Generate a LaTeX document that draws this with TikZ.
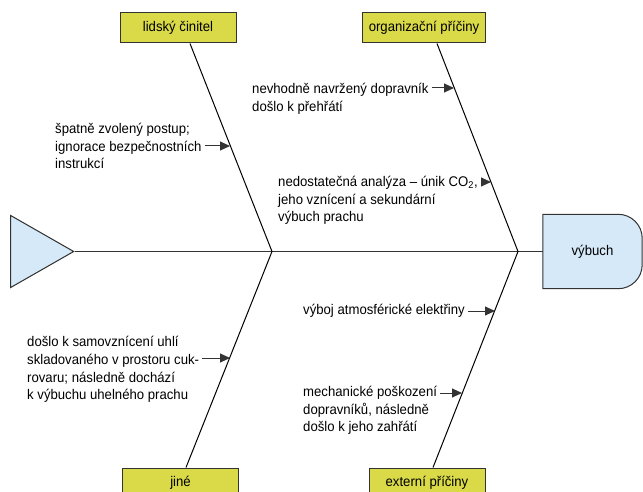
\documentclass[tikz,border=0pt]{standalone}
\usepackage{fontspec}
\setmainfont{Liberation Sans}[FakeStretch=0.94]
\usepackage{xcolor}
\usepackage{tikz}
\usetikzlibrary{
    positioning,
    arrows.meta,
    shapes.geometric,
    backgrounds,
    calc
}
\definecolor{boxyellow}{RGB}{218,218,72}
\definecolor{headblue}{RGB}{213,233,248}
\definecolor{linegray}{RGB}{51,51,51}
\tikzset{
    category/.style={
        rectangle, draw=linegray, fill=boxyellow, line width=1pt,
        minimum width=116pt, minimum height=30pt, inner xsep=6pt,
        align=center
    },
    causetext/.style={
        anchor=west, inner sep=0pt, align=left
    },
    cause/.style={
        -{Triangle[length=10pt,width=9pt]}, line width=1pt,
        draw=linegray, shorten <=3pt
    },
    bone/.style={
        line width=1pt, draw=black
    },
    spine/.style={
        line width=1.2pt, draw=linegray
    },
    fishtail/.style={
        isosceles triangle, isosceles triangle stretches,
        draw=linegray, fill=headblue, line width=1pt,
        minimum width=72pt, minimum height=63pt, inner sep=0pt,
        anchor=apex
    },
    effect/.style={
        rectangle, minimum width=99pt, minimum height=74pt, inner sep=0pt
    }
}

\begin{document}
\begin{tikzpicture}[x=1pt, y=-1pt, font=\fontsize{14}{17.7}\selectfont]
	\useasboundingbox (0,0) rectangle (643,492);
	\clip (0,0) rectangle (643,492);
	
	% NODES
	\node (tail) [fishtail] at (75,251.5) {};
	\node (vybuch) [effect] at (592.5,251.5) {výbuch};
	\node (lidsky) [category] at (178,28) {lidský činitel};
	\node (organizacni) [category] at (424,28) {organizační příčiny};
	\node (jine) [category] at (180.5,483) {jiné};
	\node (externi) [category] at (427,483) {externí příčiny};
	
	% JUNCTIONS AND TIPS ON THE BONES
	\coordinate (jA) at (272,251.5);
	\coordinate (jB) at (518,251.5);
	\coordinate (tipA1) at (230,146);
	\coordinate (tipB1) at (454,88);
	\coordinate (tipB2) at (491,182);
	\coordinate (tipC1) at (230,358);
	\coordinate (tipD1) at (495,311);
	\coordinate (tipD2) at (462,393);
	
	% CAUSES
	\node (spatne) [causetext] at (55,146) {špatně zvolený postup;\\ignorace bezpečnostních\\instrukcí};
	\node (nevhodne) [causetext] at (252,98.5) {nevhodně navržený dopravník\\došlo k přehřátí};
	\node (analyza) [causetext] at (278,200.5) {nedostatečná analýza – únik CO\textsubscript{2},\\jeho vznícení a sekundární\\výbuch prachu};
	\node (vyboj) [causetext] at (303,311) {výboj atmosférické elektřiny};
	\node (mechanicke) [causetext] at (303,410.5) {mechanické poškození\\dopravníků, následně\\došlo k jeho zahřátí};
	\node (samovzniceni) [causetext] at (27,369.5) {došlo k samovznícení uhlí\\skladovaného v prostoru cuk-\\rovaru; následně dochází\\k výbuchu uhelného prachu};
	
	% SPINE AND BONES
	\draw[spine] (tail.apex) -- (vybuch.west);
	\draw[bone] ([xshift=12pt]lidsky.south) -- (jA) -- ([xshift=5.5pt]jine.north);
	\draw[bone] ([xshift=13pt]organizacni.south) -- (jB) -- ([xshift=6pt]externi.north);
	
	% ARROWS
	\draw[cause] (spatne.east |- tipA1) -- (tipA1);
	\draw[cause] (nevhodne.east |- tipB1) -- (tipB1);
	\draw[cause] (analyza.east |- tipB2) -- (tipB2);
	\draw[cause] (samovzniceni.east |- tipC1) -- (tipC1);
	\draw[cause] (vyboj.east |- tipD1) -- (tipD1);
	\draw[cause] (mechanicke.east |- tipD2) -- (tipD2);
	
	% EFFECT HEAD
	\begin{scope}[on background layer]
		\draw[draw=linegray, fill=headblue, line width=1pt] (vybuch.west) -- (vybuch.north west) -- (vybuch.north) [rounded corners=24pt] -- (vybuch.north east) -- (vybuch.south east) -- (vybuch.south) [sharp corners] -- (vybuch.south west) -- cycle;
	\end{scope}
	
\end{tikzpicture}
\end{document}
